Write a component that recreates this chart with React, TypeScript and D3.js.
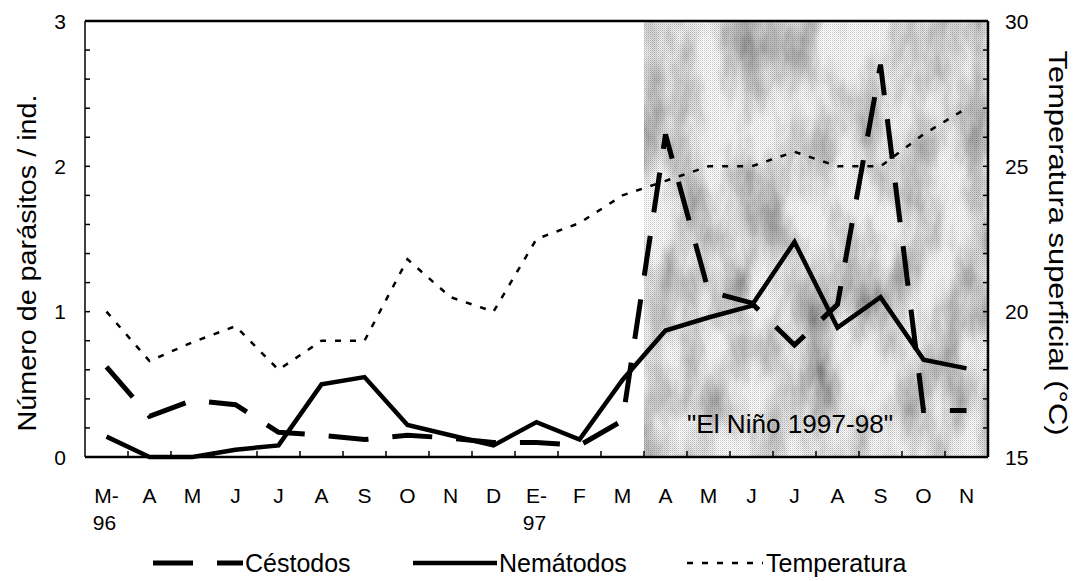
import React from "react";
import * as d3 from "d3";

const monthLabels = ["M-", "A", "M", "J", "J", "A", "S", "O", "N", "D", "E-", "F", "M", "A", "M", "J", "J", "A", "S", "O", "N"];
const yearLabels = ["96", "", "", "", "", "", "", "", "", "", "97", "", "", "", "", "", "", "", "", "", ""];
const cestodos = [0.62, 0.28, 0.39, 0.36, 0.17, 0.15, 0.12, 0.15, 0.13, 0.10, 0.10, 0.08, 0.25, 2.22, 1.14, 1.06, 0.77, 1.05, 2.70, 0.32, 0.32];
const nematodos = [0.14, 0.0, 0.0, 0.05, 0.08, 0.5, 0.55, 0.22, 0.15, 0.08, 0.24, 0.12, 0.53, 0.87, 0.96, 1.04, 1.48, 0.89, 1.10, 0.67, 0.61];
const temperatura = [20.0, 18.3, 18.95, 19.5, 18.0, 19.0, 19.0, 21.8, 20.5, 20.0, 22.5, 23.05, 24.0, 24.5, 25.0, 25.0, 25.5, 25.0, 25.0, 26.1, 27.0];
const leftTicks = [0, 1, 2, 3];
const rightTicks = [15, 20, 25, 30];
const ninoStartIndex = 13;
const ninoLabel = "\"El Niño 1997-98\"";
const legendItems = ["Céstodos", "Nemátodos", "Temperatura"];

const W = 1080, H = 581;
const L = 85, R = 988, T = 21, B = 457;
const FONT = "'Liberation Sans', Arial, sans-serif";

export default function App() {
  const idx = monthLabels.map((_, i) => i);
  const x = d3.scalePoint<number>().domain(idx).range([L, R]).padding(0.5);
  const step = x.step();
  const yL = d3.scaleLinear().domain([0, 3]).range([B, T]);
  const yR = d3.scaleLinear().domain([15, 30]).range([B, T]);

  const lineL = d3.line<number>().x((_, i) => x(i)!).y((d) => yL(d));
  const lineR = d3.line<number>().x((_, i) => x(i)!).y((d) => yR(d));

  const minorL = d3.range(0, 3.0001, 0.2);
  const minorR = d3.range(15, 30.0001, 1);
  const bounds = idx.slice(1).map((i) => x(i)! - step / 2);
  const shadeX0 = x(ninoStartIndex)! - step / 2;

  return (
    <svg width={W} height={H} style={{ position: "absolute", left: 0, top: 0, background: "#fff" }} fontFamily={FONT}>
      <defs>
        <filter id="mottle" x="0" y="0" width="100%" height="100%">
          <feTurbulence type="fractalNoise" baseFrequency="0.03 0.012" numOctaves={4} seed={11} result="n" />
          <feColorMatrix in="n" type="matrix"
            values="1.3 0 0 0 0.12  1.3 0 0 0 0.12  1.3 0 0 0 0.12  0 0 0 0 1" />
        </filter>
        <pattern id="dither" width="2" height="2" patternUnits="userSpaceOnUse">
          <rect x="0" y="0" width="1" height="1" fill="#000" />
          <rect x="1" y="1" width="1" height="1" fill="#000" opacity="0.4" />
        </pattern>
      </defs>

      {/* El Niño shading */}
      <rect x={shadeX0} y={T} width={R - shadeX0} height={B - T} filter="url(#mottle)" />
      <rect x={shadeX0} y={T} width={R - shadeX0} height={B - T} fill="url(#dither)" opacity={0.22} />

      {/* axes frame */}
      <line x1={L} x2={R} y1={T} y2={T} stroke="#000" strokeWidth={2.5} />
      <line x1={L} x2={R} y1={B} y2={B} stroke="#000" strokeWidth={2.5} />
      <line x1={L} x2={L} y1={T} y2={B} stroke="#000" strokeWidth={1.5} />
      <line x1={R} x2={R} y1={T} y2={B} stroke="#000" strokeWidth={2.5} />

      {/* ticks */}
      {minorL.map((v, i) => (
        <line key={"tl" + i} x1={L} x2={L + 5} y1={yL(v)} y2={yL(v)} stroke="#000" strokeWidth={1.5} />
      ))}
      {minorR.map((v, i) => (
        <line key={"tr" + i} x1={R - 5} x2={R} y1={yR(v)} y2={yR(v)} stroke="#000" strokeWidth={1.5} />
      ))}
      {bounds.map((bx, i) => (
        <line key={"tx" + i} x1={bx} x2={bx} y1={B} y2={B - 6} stroke="#000" strokeWidth={1.5} />
      ))}

      {/* tick labels */}
      {leftTicks.map((v) => (
        <text key={"ll" + v} x={66} y={yL(v)} textAnchor="end" dominantBaseline="central" fontSize={21}>{v}</text>
      ))}
      {rightTicks.map((v) => (
        <text key={"rl" + v} x={1005} y={yR(v)} textAnchor="start" dominantBaseline="central" fontSize={21}>{v}</text>
      ))}
      {monthLabels.map((m, i) => (
        <text key={"ml" + i} x={x(i)!} y={503} textAnchor="middle" fontSize={21}>{m}</text>
      ))}
      {yearLabels.map((m, i) => m ? (
        <text key={"yl" + i} x={x(i)! - 2} y={530} textAnchor="middle" fontSize={21}>{m}</text>
      ) : null)}

      {/* axis titles */}
      <text transform={`translate(36,263) rotate(-90)`} textAnchor="middle" fontSize={26} textLength={337} lengthAdjust="spacingAndGlyphs">Número de parásitos / ind.</text>
      <text transform={`translate(1049,243) rotate(90)`} textAnchor="middle" fontSize={26} textLength={385} lengthAdjust="spacingAndGlyphs">Temperatura superficial (°C)</text>

      {/* series */}
      <path d={lineR(temperatura)!} fill="none" stroke="#000" strokeWidth={2.5} strokeDasharray="6,9" />
      <path d={lineL(nematodos)!} fill="none" stroke="#000" strokeWidth={4.5} strokeLinejoin="miter" />
      <path d={lineL(cestodos)!} fill="none" stroke="#000" strokeWidth={5} strokeDasharray="40,24" />

      <text x={687} y={433} fontSize={25} textLength={206} lengthAdjust="spacingAndGlyphs">{ninoLabel}</text>

      {/* legend */}
      <line x1={153} x2={243} y1={563} y2={563} stroke="#000" strokeWidth={5} strokeDasharray="40,24" />
      <text x={245} y={572} fontSize={25}>{legendItems[0]}</text>
      <line x1={413} x2={497} y1={563} y2={563} stroke="#000" strokeWidth={4.5} />
      <text x={499} y={572} fontSize={25}>{legendItems[1]}</text>
      <line x1={687} x2={763} y1={563} y2={563} stroke="#000" strokeWidth={2.5} strokeDasharray="6,9" />
      <text x={766} y={572} fontSize={25}>{legendItems[2]}</text>
    </svg>
  );
}
